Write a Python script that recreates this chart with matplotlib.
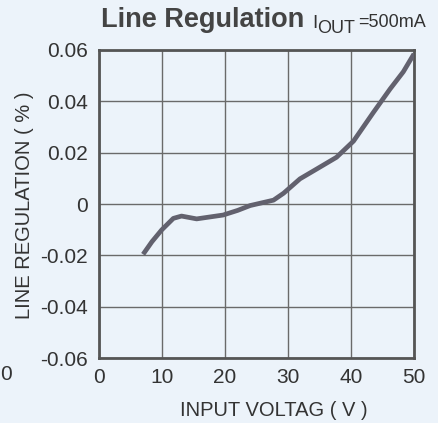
import numpy as np
import matplotlib.pyplot as plt

plt.rcParams['font.family'] = ['Liberation Sans', 'DejaVu Sans']

# curve
vin = [7.0, 8.4, 9.95, 11.8, 13.1, 15.5, 19.7, 22.0, 24.0, 27.7, 29.3,
       31.9, 34.6, 37.7, 40.4, 43.5, 46.2, 48.3, 50.0]
reg = [-0.0196, -0.0147, -0.0101, -0.0056, -0.0047, -0.0058, -0.0043,
       -0.0025, -0.0006, 0.0015, 0.0042, 0.0098, 0.0137, 0.0182, 0.0245,
       0.0355, 0.0448, 0.0515, 0.0585]

xticks = [0, 10, 20, 30, 40, 50]
yticks = [-0.06, -0.04, -0.02, 0.0, 0.02, 0.04, 0.06]
ylabels = ["-0.06", "-0.04", "-0.02", "0", "0.02", "0.04", "0.06"]

bg = "#ecf3fa"
txt = "#333333"
W, H = 439, 423

fig = plt.figure(figsize=(4.39, 4.23), dpi=100, facecolor=bg)
ax = fig.add_axes([99 / W, 1 - 358 / H, 315 / W, 308 / H])
ax.set_facecolor(bg)

ax.plot(vin, reg, color="#62616e", linewidth=3.4, solid_capstyle="butt",
        zorder=3)

ax.set_xlim(0, 50)
ax.set_ylim(-0.06, 0.06)
ax.set_xticks(xticks)
ax.set_yticks(yticks)
ax.set_yticklabels(ylabels)
ax.tick_params(length=0, labelsize=15, colors=txt)
ax.tick_params(axis="x", pad=7)
ax.tick_params(axis="y", pad=8)
ax.grid(True, color="#6a6a6a", linewidth=1.0)
for s in ax.spines.values():
    s.set_color("#555555")
    s.set_linewidth(2)

fig.text(25 / W, 1 - 205 / H, "LINE REGULATION ( % )", rotation=90,
         ha="center", va="center", fontsize=14.5, color=txt)
fig.text(274 / W, 1 - 410 / H, "INPUT VOLTAG ( V )",
         ha="center", va="center", fontsize=14.5, color=txt)
fig.text(6 / W, 1 - 375 / H, "0", ha="center", va="center",
         fontsize=15, color=txt)

# title with the I_OUT condition beside it
fig.text(101 / W, 1 - 27 / H, "Line Regulation", ha="left",
         va="baseline", fontsize=19.5, fontweight="bold", color="#444444")
fig.text(312 / W, 1 - 28 / H, "I", ha="left", va="baseline",
         fontsize=13.5, color=txt)
fig.text(317 / W, 1 - 33 / H, "OUT", ha="left", va="baseline",
         fontsize=13, color=txt)
fig.text(358 / W, 1 - 27 / H, "=500mA", ha="left", va="baseline",
         fontsize=13, color=txt)

fig.savefig("out.png", dpi=100, facecolor=bg)
